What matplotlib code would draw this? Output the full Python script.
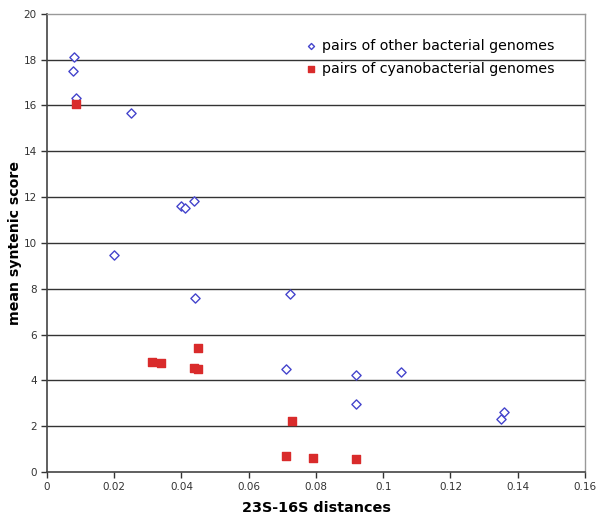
import matplotlib.pyplot as plt

# --- DATA ---
other_x = [0.0079, 0.0077, 0.0085, 0.0250, 0.0400, 0.0410, 0.0436, 0.0200,
           0.0441, 0.0722, 0.0710, 0.0920, 0.1052, 0.0920, 0.1350, 0.1360]
other_y = [18.10, 17.48, 16.30, 15.68, 11.60, 11.53, 11.82, 9.46,
           7.60, 7.77, 4.51, 4.24, 4.38, 2.97, 2.30, 2.62]

cyano_x = [0.0085, 0.0311, 0.0339, 0.0438, 0.0450, 0.0450, 0.0730, 0.0710,
           0.0790, 0.0920]
cyano_y = [16.04, 4.80, 4.76, 4.55, 4.51, 5.41, 2.24, 0.69, 0.61, 0.58]

x_ticks = [0, 0.02, 0.04, 0.06, 0.08, 0.1, 0.12, 0.14, 0.16]
x_labels = ["0", "0.02", "0.04", "0.06", "0.08", "0.1", "0.12", "0.14", "0.16"]
y_ticks = [0, 2, 4, 6, 8, 10, 12, 14, 16, 18, 20]

fig = plt.figure(figsize=(6, 5.18), dpi=100)
ax = fig.add_axes([0.0783, 0.0888, 0.8967, 0.8848])

# horizontal grid lines
for yv in y_ticks[1:-1]:
    ax.axhline(yv, color='#333333', linewidth=1.0, zorder=1)

ax.scatter(other_x, other_y, marker='D', s=22, facecolors='white',
           edgecolors='#4444cc', linewidths=1.0, zorder=3,
           label='pairs of other bacterial genomes')
ax.scatter(cyano_x, cyano_y, marker='s', s=38, color='#d92b2b',
           zorder=3, label='pairs of cyanobacterial genomes')

ax.set_xlim(0, 0.16)
ax.set_ylim(0, 20)
ax.set_xticks(x_ticks)
ax.set_xticklabels(x_labels)
ax.set_yticks(y_ticks)
ax.tick_params(axis='both', labelsize=7.5, labelcolor='#333333',
               length=4, width=1, color='#333333', direction='out')

for side in ['left', 'bottom']:
    ax.spines[side].set_color('#444444')
    ax.spines[side].set_linewidth(1.2)
for side in ['top', 'right']:
    ax.spines[side].set_color('#999999')
    ax.spines[side].set_linewidth(1.0)

ax.set_xlabel("23S-16S distances", fontsize=10.4, fontweight='bold', labelpad=6)
ax.set_ylabel("mean syntenic score", fontsize=10.2, fontweight='bold', labelpad=1)

leg = ax.legend(loc='upper left', bbox_to_anchor=(305 / 600, 1 - 39 / 518),
                bbox_transform=fig.transFigure, frameon=False,
                fontsize=10.2, handlelength=0.8, handletextpad=0.4,
                markerscale=0.65, borderpad=0, borderaxespad=0,
                labelspacing=0.65)

fig.savefig("out.png", dpi=100)
